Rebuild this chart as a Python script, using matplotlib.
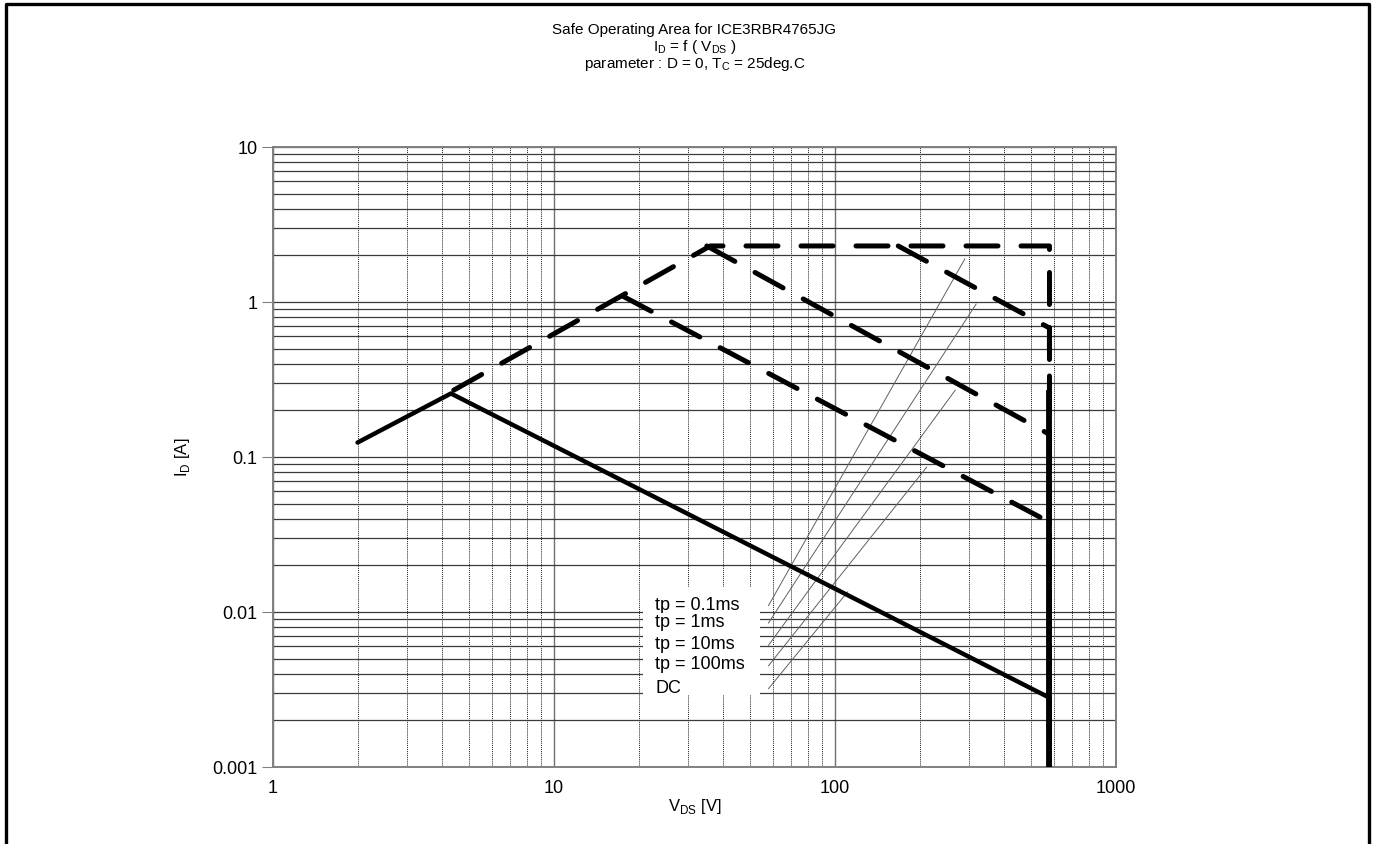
import numpy as np
import matplotlib
matplotlib.use("Agg")
import matplotlib.pyplot as plt
from matplotlib.lines import Line2D
from matplotlib.patches import Rectangle
from matplotlib.ticker import FixedLocator, FixedFormatter, NullFormatter

plt.rcParams["font.family"] = ["Liberation Sans", "DejaVu Sans"]
plt.rcParams["mathtext.fontset"] = "custom"
plt.rcParams["mathtext.rm"] = "Liberation Sans"

# ── SOA curves (V_DS [V], I_D [A]) ───────────────────────────────────────────
V_DC    = [2.0, 4.3, 580, 580]
I_DC    = [0.124, 0.257, 0.0028, 0.001]
V_01MS  = [4.4, 36, 580, 580]
I_01MS  = [0.27, 2.3, 2.3, 0.001]
V_1MS   = [168, 580, 580]
I_1MS   = [2.3, 0.68, 0.001]
V_10MS  = [35, 580, 580]
I_10MS  = [2.3, 0.14, 0.001]
V_100MS = [17.6, 580, 580]
I_100MS = [1.09, 0.038, 0.001]

# label leader lines: start at label box, end near the curves
LABELS  = ["tp = 0.1ms", "tp = 1ms", "tp = 10ms", "tp = 100ms", "DC"]
LEAD_V0 = [58, 58, 58, 58, 58]
LEAD_I0 = [0.011, 0.0085, 0.0061, 0.0045, 0.0032]
LEAD_V1 = [290, 318, 268, 212, 111]
LEAD_I1 = [1.9, 0.97, 0.27, 0.086, 0.0135]
LABEL_I = [0.011, 0.0085, 0.0062, 0.0046, 0.0032]

X_TICKS = [1, 10, 100, 1000]
Y_TICKS = [0.001, 0.01, 0.1, 1, 10]

fig = plt.figure(figsize=(13.75, 8.44), dpi=100)
ax = fig.add_axes([0.1985, 0.0912, 0.6131, 0.7346])
ax.set_xscale("log")
ax.set_yscale("log")
ax.set_xlim(1, 1000)
ax.set_ylim(0.001, 10)

# ── grid ──────────────────────────────────────────────────────────────────────
ax.xaxis.set_major_locator(FixedLocator(X_TICKS))
ax.xaxis.set_major_formatter(FixedFormatter([f"{t:g}" for t in X_TICKS]))
ax.yaxis.set_major_locator(FixedLocator(Y_TICKS))
ax.yaxis.set_major_formatter(FixedFormatter([f"{t:g}" for t in Y_TICKS]))
ax.xaxis.set_minor_formatter(NullFormatter())
ax.yaxis.set_minor_formatter(NullFormatter())
ax.grid(True, which="major", axis="x", color="#707070", lw=1.0)
ax.grid(True, which="minor", axis="x", color="#202020", lw=0.7, ls=(0, (1.0, 1.0)))
ax.grid(True, which="both", axis="y", color="#3a3a3a", lw=0.9)
ax.tick_params(axis="x", which="both", length=0, labelsize=13, pad=9)
ax.tick_params(axis="y", which="major", length=8, color="#808080", labelsize=13, pad=3)
ax.tick_params(axis="y", which="minor", length=0)
for s in ax.spines.values():
    s.set_color("#808080")
    s.set_linewidth(1.4)

# ── curves ────────────────────────────────────────────────────────────────────
dash = (0, (6.4, 4.6))
kw = dict(color="black", lw=3.6, ls=dash, dash_capstyle="round",
          solid_joinstyle="round", zorder=5)
ax.plot(V_01MS, I_01MS, **kw)
ax.plot(V_1MS, I_1MS, **kw)
ax.plot(V_10MS, I_10MS, **kw)
ax.plot(V_100MS, I_100MS, **kw)
ax.plot(V_DC, I_DC, color="black", lw=3.2, solid_capstyle="round",
        solid_joinstyle="round", zorder=6)
ax.plot([V_DC[-1]] * 2, [0.26, 0.001], color="black", lw=4.2, zorder=6)

# ── labels with leader lines ─────────────────────────────────────────────────
ax.add_patch(Rectangle((0.439, 0.116), 0.139, 0.174, transform=ax.transAxes,
                       facecolor="white", edgecolor="none", zorder=3.5))
for v0, i0, v1, i1 in zip(LEAD_V0, LEAD_I0, LEAD_V1, LEAD_I1):
    ax.plot([v0, v1], [i0, i1], color="#606060", lw=0.7, zorder=4)
for lab, yi in zip(LABELS, LABEL_I):
    ax.text(22.9, yi, lab, fontsize=13, ha="left", va="center", zorder=7,
            bbox=dict(facecolor="white", edgecolor="none", pad=1.0))

# ── titles and axis labels ───────────────────────────────────────────────────
cx = 0.505
fig.text(cx, 0.9645, "Safe Operating Area for ICE3RBR4765JG", ha="center", va="center", fontsize=11)
fig.text(cx, 0.944, r"I$_\mathregular{D}$ = f ( V$_\mathregular{DS}$ )", ha="center", va="center", fontsize=11)
fig.text(cx, 0.924, r"parameter : D = 0, T$_\mathregular{C}$ = 25deg.C", ha="center", va="center", fontsize=11)
ax.set_xlabel(r"V$_\mathregular{DS}$ [V]", fontsize=12, labelpad=0)
ax.set_ylabel(r"I$_\mathregular{D}$ [A]", fontsize=12, labelpad=15)

# outer frame (left, top, right)
fig.add_artist(Line2D([0.0044, 0.0044, 0.9956, 0.9956], [-0.01, 0.9958, 0.9958, -0.01],
                      transform=fig.transFigure, color="black", lw=2.4))

fig.savefig("out.png", dpi=100)
